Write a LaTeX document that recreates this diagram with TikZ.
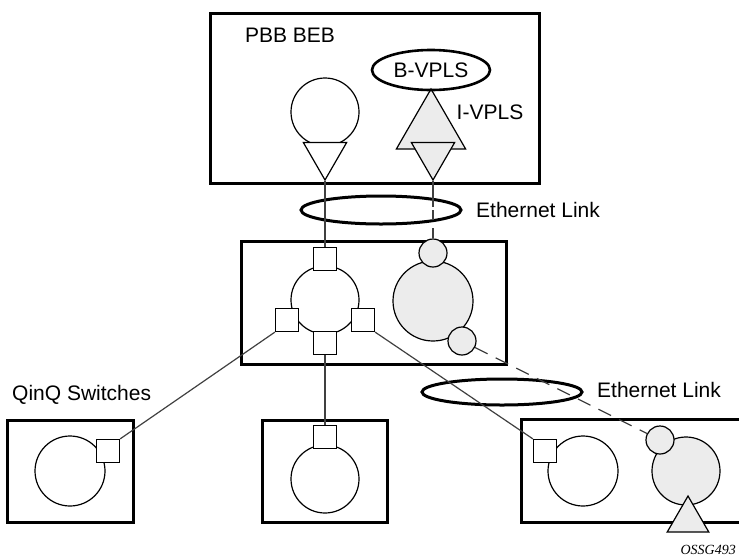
\documentclass[tikz,border=0pt]{standalone}
\usepackage{fontspec}
\setmainfont{Liberation Sans}
\newfontfamily\tagfont{Liberation Serif}
\usetikzlibrary{shapes.geometric}

\begin{document}
\begin{tikzpicture}[
	x=1pt, y=-1pt,
	every node/.style={font=\fontsize{21}{25}\selectfont, inner sep=0pt},
	box/.style={
		draw=black,
		line width=3pt
		},
	link/.style={
		ellipse,
		draw=black,
		line width=3pt
		},
	vpls/.style={
		circle,
		draw=black,
		line width=1.2pt,
		fill=white
		},
	ivpls/.style={
		vpls,
		fill=gray!15
	},
	port/.style={
		rectangle,
		draw=black,
		line width=1.2pt,
		fill=white,
		minimum size=23pt
	},
	sap/.style={
		regular polygon,
		regular polygon sides=3,
		draw=black,
		line width=1.2pt,
		fill=white
	},
	wire/.style={
		draw=black!75,
		line width=1.2pt
	},
	dwire/.style={
		wire,
		dash pattern=on 14pt off 9pt
	}
]
\useasboundingbox (0,0) rectangle (739,558);

% Boxes
\draw[box] (210,13) rectangle (539,183);
\draw[box] (241,241) rectangle (506,364);
\draw[box] (7,420) rectangle (133,522);
\draw[box] (262,420) rectangle (387,522);
\draw[box] (521,419) rectangle (750,522);

% PBB BEB
\node at (290,35) {PBB BEB};
\node [vpls, minimum size=68pt] (BEB Ring) at (325,112) {};
\node [sap, shape border rotate=180, minimum size=50pt] (BEB Sap) at (325,155) {};
\node [sap, fill=gray!15, minimum size=80pt] (IVPLS) at (431,129) {};
\node [sap, fill=gray!15, shape border rotate=180, minimum size=50pt] (IVPLS Sap) at (433,155) {};
\node [link, line width=2.6pt, minimum width=118pt, minimum height=40pt] (BVPLS) at (431,70) {B-VPLS};
\node at (490,112) {I-VPLS};

% Middle switch
\node [vpls, minimum size=68pt] (Mid Ring) at (325,300) {};
\node [port] (Mid Top) at (325,259) {};
\node [port] (Mid Left) at (287,320) {};
\node [port] (Mid Right) at (363,320) {};
\node [port] (Mid Bottom) at (325,343) {};
\node [ivpls, minimum size=80pt] (Mid Grey) at (433,301) {};
\node [ivpls, minimum size=28pt] (Mid Up) at (433,253) {};
\node [ivpls, minimum size=28pt] (Mid Down) at (462,341) {};

% QinQ switches
\node [anchor=west] at (12,395) {QinQ Switches};
\node [vpls, minimum size=70pt] (Left Ring) at (70,471) {};
\node [port] (Left Port) at (108,451) {};
\node [vpls, minimum size=68pt] (Centre Ring) at (325,479) {};
\node [port] (Centre Port) at (325,437) {};
\node [vpls, minimum size=70pt] (Right Ring) at (583,471) {};
\node [port] (Right Port) at (545,451) {};
\node [ivpls, minimum size=68pt] (Right Grey) at (686,471) {};
\node [ivpls, minimum size=28pt] (Right Up) at (660,440) {};
\node [sap, fill=gray!15, minimum size=48pt] (Right Sap) at (688,520) {};

% Ethernet links
\node [link, minimum width=160pt, minimum height=28pt] (Link 1) at (381,210) {};
\node [anchor=west] at (476,210) {Ethernet Link};
\node [link, minimum width=160pt, minimum height=26pt] (Link 2) at (502,392) {};
\node [anchor=west] at (597,390) {Ethernet Link};

% Connections
\draw[wire] (BEB Sap) -- (Mid Top);
\draw[wire, dash pattern=on 26pt off 3pt on 10pt off 8pt] (IVPLS Sap) -- (Mid Up);
\draw[wire] (Mid Left.south west) -- (Left Port.north east);
\draw[wire] (Mid Bottom) -- (Centre Port);
\draw[wire] (Mid Right.south east) -- (Right Port.north west);
\draw[dwire] (Mid Down) -- (Right Up);

\node [anchor=base east, font=\tagfont\itshape\fontsize{14}{16}\selectfont] at (736,554) {OSSG493};

\end{tikzpicture}
\end{document}
